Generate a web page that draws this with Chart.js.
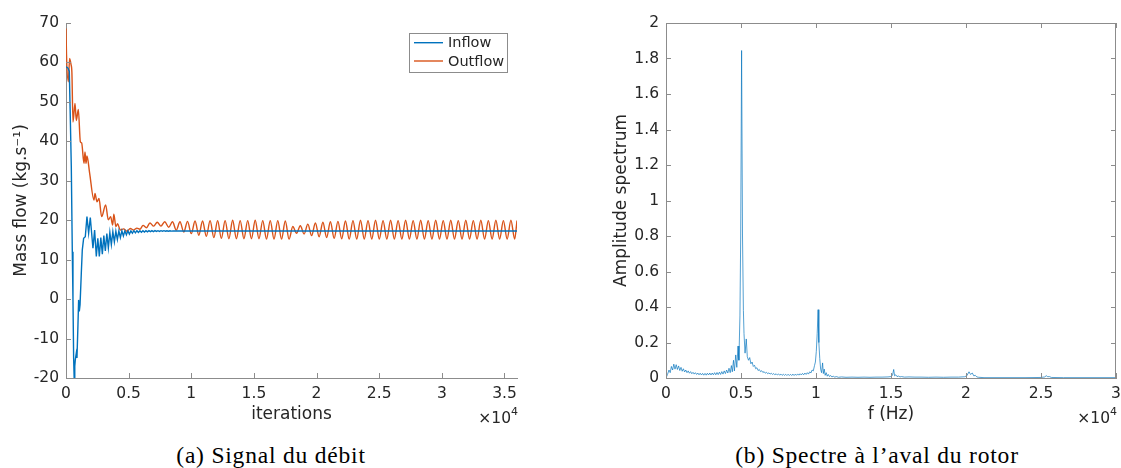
<!DOCTYPE html>
<html><head><meta charset="utf-8">
<script src="https://cdn.jsdelivr.net/npm/chart.js@4.4.1/dist/chart.umd.min.js"></script>
<style>
html,body{margin:0;padding:0;background:#fff;}
#wrap{position:relative;width:1121px;height:468px;overflow:hidden;background:#fff;}
#c1{position:absolute;left:0;top:0;}
#c2{position:absolute;left:570px;top:0;}
.cap{position:absolute;top:442px;font-family:'Liberation Serif','DejaVu Serif',serif;font-size:23.5px;letter-spacing:0.8px;color:#000;white-space:nowrap;transform:translateX(-50%);}
</style></head><body>
<div id="wrap">
<canvas id="c1" width="570" height="432"></canvas>
<canvas id="c2" width="551" height="432"></canvas>
<div class="cap" style="left:271px">(a) Signal du débit</div>
<div class="cap" style="left:877px">(b) Spectre à l’aval du rotor</div>
</div>
<script>
// ---------- data ----------
const inflowIter = [0,150,263,330,423,503,556,610,650,700,742,822,875,955,1008,1061,1120,1221,1301,1407,1540,1673,1806,1939,2151,2284,2420,2540,2660,2780,2900,3020,3140,3260,3380,3500,3620,3740,3860,3980,4100,4220,4340,4460,4580,4700,4820,4940,5060,5180,5300,5420,5540,5660,5780,5900,6020,6140,6260,6380,6500,6620,6740,6860,6980,7100,7220,7340,7460,7580,7700,7820,7940,8060,8180,8300,8420,8540,8800,9500,12000,20000,36000];
const inflowVal = [58.9,58.6,57.8,48,33.6,12,0,-15,-19.8,-17,-15.4,-13.7,-14.9,-6.5,-0.2,-3.1,-1.5,6.5,12.5,15.4,15.8,20.9,16.7,20.7,12.9,17.5,10.8,15.4,10.8,15.6,11.4,16.1,12.2,16.6,13.0,16.9,13.8,17.1,14.5,17.2,15.1,17.3,15.6,17.3,16.0,17.3,16.3,17.3,16.5,17.3,16.7,17.35,16.8,17.35,16.9,17.35,16.95,17.35,17.0,17.35,17.05,17.35,17.1,17.35,17.1,17.35,17.15,17.35,17.15,17.35,17.2,17.35,17.2,17.33,17.22,17.32,17.24,17.3,17.26,17.28,17.27,17.27,17.27];

const outflowIter = [0,40,184,290,400,470,558,718,824,984,1144,1250,1436,1516,1596,1676,1889,2234,2314,2474,2633,2846,3165,3378,3564,3724,3819,3980,4120,4332,4598,4864,5130,5400,5662,5900,6150,6420,6700,7000,7280,7580,7880,8200,
8500,8800,9100,9400,9701,10001,10301,10601,10901,11201,11502,11802,12102,12402,12702,13002,13302,13602,13903,14203,14503,14803,15103,15403,15704,16004,16304,16604,16904,17204,17505,17805,18105,18405,18705,19005,19305,19605,19906,20206,20506,20806,21106,21406,21707,22007,22307,22607,22907,23207,23508,23808,24108,24408,24708,25008,25308,25608,25909,26209,26509,26809,27109,27409,27710,28010,28310,28610,28910,29210,29511,29811,30111,30411,30711,31011,31311,31611,31912,32212,32512,32812,33112,33412,33713,34013,34313,34613,34913,35213,35514,35814,36000];
const outflowVal = [68.6,62,55.1,61,59.5,57.5,44.9,49.6,45.3,48.1,39.9,39.6,34.4,37.3,34.4,36.3,31.9,25.1,26.8,24.7,25.5,20.9,23.9,20.1,20.9,18.8,21.5,18.4,19.1,17.5,17.8,17.2,17.9,17.5,18.0,17.7,18.7,18.1,19.3,18.5,19.5,18.5,19.6,18.2,
19.6,17.5,19.6,17.0,19.7,16.6,19.8,16.2,19.8,15.9,19.9,15.6,19.9,15.4,19.9,15.3,20.0,15.3,19.9,15.3,19.9,15.3,20.0,15.3,19.9,15.2,19.9,15.2,19.9,15.2,19.8,15.2,18.4,16.7,18.6,16.5,19.0,16.1,19.3,15.8,19.5,15.6,19.6,15.4,19.7,15.3,19.8,15.2,19.9,15.2,20.0,15.2,19.9,15.2,20.0,15.2,19.9,15.2,20.0,15.2,19.9,15.2,20.0,15.2,19.9,15.2,20.0,15.2,19.9,15.2,20.0,15.2,19.9,15.2,20.0,15.2,19.9,15.2,20.0,15.2,19.9,15.2,20.0,15.2,19.9,15.2,20.0,15.2,19.9,15.2,20.0,15.2,19.9,15.2,20.0,15.2,16.5];

const freqHz = [0,100,200,280,360,440,520,600,680,760,840,920,1000,1080,1160,1240,1320,1400,1480,1560,1640,1720,1800,1880,1960,2040,2120,2200,2280,2360,2440,2520,2600,2680,2760,2840,2920,3000,3080,3160,3240,3320,3400,3480,3560,3640,3720,3800,3880,3960,4040,4120,4200,4280,4360,4420,4500,4560,4650,4720,4800,4860,4930,4980,5040,5100,5160,5200,5270,5350,5420,5500,5580,5660,5740,5820,5900,5980,6060,6140,6220,6300,6380,6460,6540,6620,6700,6780,6860,6940,7020,7100,7180,7260,7340,7420,7500,7580,7660,7740,7820,7900,7980,8060,8140,8220,8300,8380,8460,8540,8620,8700,8780,8860,8940,9020,9100,9180,9260,9340,9420,9500,9580,9660,9740,9820,9900,9960,10020,10080,10140,10190,10250,10310,10370,10440,10490,10550,10610,10680,10750,10820,10900,10980,11060,11150,11250,11350,11500,11700,12000,12400,12800,13200,13600,14000,14400,14800,15000,15100,15180,15240,15320,15400,15500,15600,15700,15900,16200,16600,17000,17500,18000,18500,19000,19500,19900,20050,20200,20300,20420,20520,20620,20720,20850,21200,22000,23000,24000,25000,25250,25350,25450,25550,25700,26500,28000,30000];
const amplitude = [0,0.02,0.045,0.03,0.065,0.045,0.078,0.05,0.075,0.048,0.068,0.042,0.06,0.038,0.052,0.034,0.045,0.03,0.04,0.027,0.036,0.024,0.032,0.022,0.03,0.02,0.028,0.018,0.027,0.017,0.026,0.016,0.026,0.016,0.027,0.017,0.028,0.017,0.028,0.018,0.03,0.018,0.031,0.019,0.033,0.02,0.036,0.022,0.04,0.025,0.045,0.028,0.055,0.03,0.07,0.035,0.1,0.04,0.13,0.06,0.18,0.1,0.35,0.8,1.845,0.8,0.38,0.25,0.14,0.22,0.12,0.1,0.115,0.08,0.09,0.065,0.072,0.052,0.058,0.042,0.048,0.036,0.041,0.031,0.036,0.027,0.032,0.024,0.029,0.022,0.027,0.02,0.025,0.018,0.024,0.017,0.023,0.016,0.022,0.015,0.021,0.015,0.021,0.014,0.021,0.014,0.021,0.014,0.022,0.014,0.022,0.015,0.023,0.016,0.024,0.017,0.026,0.018,0.028,0.02,0.03,0.022,0.035,0.028,0.045,0.04,0.07,0.09,0.15,0.25,0.385,0.2,0.11,0.05,0.03,0.085,0.025,0.05,0.015,0.03,0.01,0.02,0.008,0.014,0.006,0.01,0.005,0.008,0.004,0.006,0.004,0.005,0.004,0.005,0.004,0.005,0.005,0.006,0.008,0.015,0.048,0.012,0.018,0.008,0.011,0.006,0.008,0.005,0.006,0.005,0.005,0.004,0.005,0.004,0.005,0.005,0.007,0.012,0.035,0.02,0.028,0.012,0.015,0.006,0.004,0.002,0.002,0.002,0.002,0.003,0.006,0.013,0.007,0.008,0.003,0.002,0.002,0.002];

const iterTicks = [0,5000,10000,15000,20000,25000,30000,35000];
const iterTickLabels = ['0','0.5','1','1.5','2','2.5','3','3.5'];
const flowTicks = [-20,-10,0,10,20,30,40,50,60,70];
const flowTickLabels = ['-20','-10','0','10','20','30','40','50','60','70'];
const freqTicks = [0,5000,10000,15000,20000,25000,30000];
const freqTickLabels = ['0','0.5','1','1.5','2','2.5','3'];
const ampTicks = [0,0.2,0.4,0.6,0.8,1,1.2,1.4,1.6,1.8,2];
const ampTickLabels = ['0','0.2','0.4','0.6','0.8','1','1.2','1.4','1.6','1.8','2'];

// ---------- styling ----------
const BLUE = '#0072BD', ORANGE = '#D95319';
const SPEC = 'rgba(0,114,189,0.85)';
const AXIS = '#8c8c8c', TXT = '#262626';
const FONT = "'DejaVu Sans', sans-serif";
Chart.defaults.font.family = FONT;
Chart.defaults.color = TXT;

function pts(xs, ys){ return xs.map((x,i)=>({x:x, y:ys[i]})); }

function axesPlugin(boxed){
  return {
    id:'matlabAxes',
    afterDatasetsDraw(chart){
      const {ctx, chartArea:a, scales:{x,y}} = chart;
      const L = 5;
      ctx.save();
      ctx.strokeStyle = AXIS; ctx.lineWidth = 1;
      ctx.beginPath();
      x.ticks.forEach(t=>{
        const p = Math.round(x.getPixelForValue(t.value))+0.5;
        ctx.moveTo(p, a.bottom); ctx.lineTo(p, a.bottom-L);
        if(boxed){ ctx.moveTo(p, a.top); ctx.lineTo(p, a.top+L); }
      });
      y.ticks.forEach(t=>{
        const p = Math.round(y.getPixelForValue(t.value))+0.5;
        ctx.moveTo(a.left, p); ctx.lineTo(a.left+L, p);
        if(boxed){ ctx.moveTo(a.right, p); ctx.lineTo(a.right-L, p); }
      });
      if(boxed){
        ctx.moveTo(a.left, Math.round(a.top)+0.5); ctx.lineTo(a.right, Math.round(a.top)+0.5);
        ctx.moveTo(Math.round(a.right)-0.5, a.top); ctx.lineTo(Math.round(a.right)-0.5, a.bottom);
      }
      ctx.stroke();
      // x10^4 exponent label
      ctx.fillStyle = TXT;
      ctx.textBaseline = 'alphabetic';
      ctx.font = '11px ' + FONT;
      const w4 = ctx.measureText('4').width;
      ctx.font = '15.5px ' + FONT;
      const r = a.right + 1;
      ctx.textAlign = 'right';
      ctx.fillText('×10', r - w4, 423);
      ctx.font = '11px ' + FONT;
      ctx.textAlign = 'left';
      ctx.fillText('4', r - w4, 415);
      ctx.restore();
    }
  };
}

const legendPlugin = {
  id:'boxLegend',
  afterDraw(chart){
    const {ctx, chartArea:a} = chart;
    const bx = Math.round(a.right - 108.5)+0.5, by = Math.round(a.top + 9.5)+0.5, bw = 98, bh = 39;
    ctx.save();
    ctx.fillStyle = '#fff';
    ctx.fillRect(bx, by, bw, bh);
    ctx.strokeStyle = AXIS; ctx.lineWidth = 1;
    ctx.strokeRect(bx, by, bw, bh);
    ctx.font = '14.5px ' + FONT;
    ctx.textBaseline = 'middle';
    ctx.textAlign = 'left';
    chart.data.datasets.forEach((ds,i)=>{
      const yy = a.top + 19.7 + i*18.3;
      ctx.strokeStyle = ds.borderColor; ctx.lineWidth = 1.4;
      ctx.beginPath(); ctx.moveTo(a.right-103, yy); ctx.lineTo(a.right-74, yy); ctx.stroke();
      ctx.fillStyle = TXT;
      ctx.fillText(ds.label, a.right-69, yy+1);
    });
    ctx.restore();
  }
};

function xScale(ticksArr, labels, max, titleText, h){
  return {
    type:'linear', min:0, max:max,
    grid:{display:false, drawTicks:false},
    border:{display:true, color:AXIS, width:1},
    afterBuildTicks(s){ s.ticks = ticksArr.map(v=>({value:v})); },
    afterFit(s){ s.height = h; s.paddingLeft = 0; s.paddingRight = 0; },
    ticks:{ padding:7, maxRotation:0, autoSkip:false, color:TXT, font:{size:15.5},
      callback:(v,i)=>labels[i] },
    title:{ display:true, text:titleText, color:TXT, font:{size:17, lineHeight:1.2}, padding:{top:0,bottom:7} }
  };
}
function yScale(ticksArr, labels, min, max, titleText, w, tpad){
  return {
    type:'linear', min:min, max:max,
    grid:{display:false, drawTicks:false},
    border:{display:true, color:AXIS, width:1},
    afterBuildTicks(s){ s.ticks = ticksArr.map(v=>({value:v})); },
    afterFit(s){ s.width = w; s.paddingTop = 0; s.paddingBottom = 0; },
    ticks:{ padding:7, autoSkip:false, color:TXT, font:{size:15.5},
      callback:(v,i)=>labels[i] },
    title:{ display:true, text:titleText, color:TXT, font:{size:17, lineHeight:1.2}, padding:{top:tpad,bottom:0} }
  };
}

new Chart(document.getElementById('c1'), {
  type:'line',
  data:{ datasets:[
    { label:'Inflow', data:pts(inflowIter, inflowVal), borderColor:BLUE, borderWidth:1.4, pointRadius:0, tension:0, fill:false },
    { label:'Outflow', data:pts(outflowIter, outflowVal), borderColor:ORANGE, borderWidth:1.4, pointRadius:0, cubicInterpolationMode:'monotone', fill:false }
  ]},
  options:{
    responsive:false, animation:false, devicePixelRatio:1,
    layout:{ padding:{left:0, top:23, right:53, bottom:0} },
    plugins:{ legend:{display:false}, tooltip:{enabled:false} },
    scales:{
      x: xScale(iterTicks, iterTickLabels, 36000, 'iterations', 54),
      y: yScale(flowTicks, flowTickLabels, -20, 70, 'Mass flow (kg.s⁻¹)', 66, 11)
    }
  },
  plugins:[axesPlugin(false), legendPlugin]
});

new Chart(document.getElementById('c2'), {
  type:'line',
  data:{ datasets:[
    { label:'Spectrum', data:pts(freqHz, amplitude), borderColor:SPEC, borderWidth:0.8, pointRadius:0, tension:0, fill:false }
  ]},
  options:{
    responsive:false, animation:false, devicePixelRatio:1,
    layout:{ padding:{left:0, top:23, right:5, bottom:0} },
    plugins:{ legend:{display:false}, tooltip:{enabled:false} },
    scales:{
      x: xScale(freqTicks, freqTickLabels, 30000, 'f (Hz)', 54),
      y: yScale(ampTicks, ampTickLabels, 0, 2, 'Amplitude spectrum', 96, 41)
    }
  },
  plugins:[axesPlugin(true)]
});
</script>
</body></html>
